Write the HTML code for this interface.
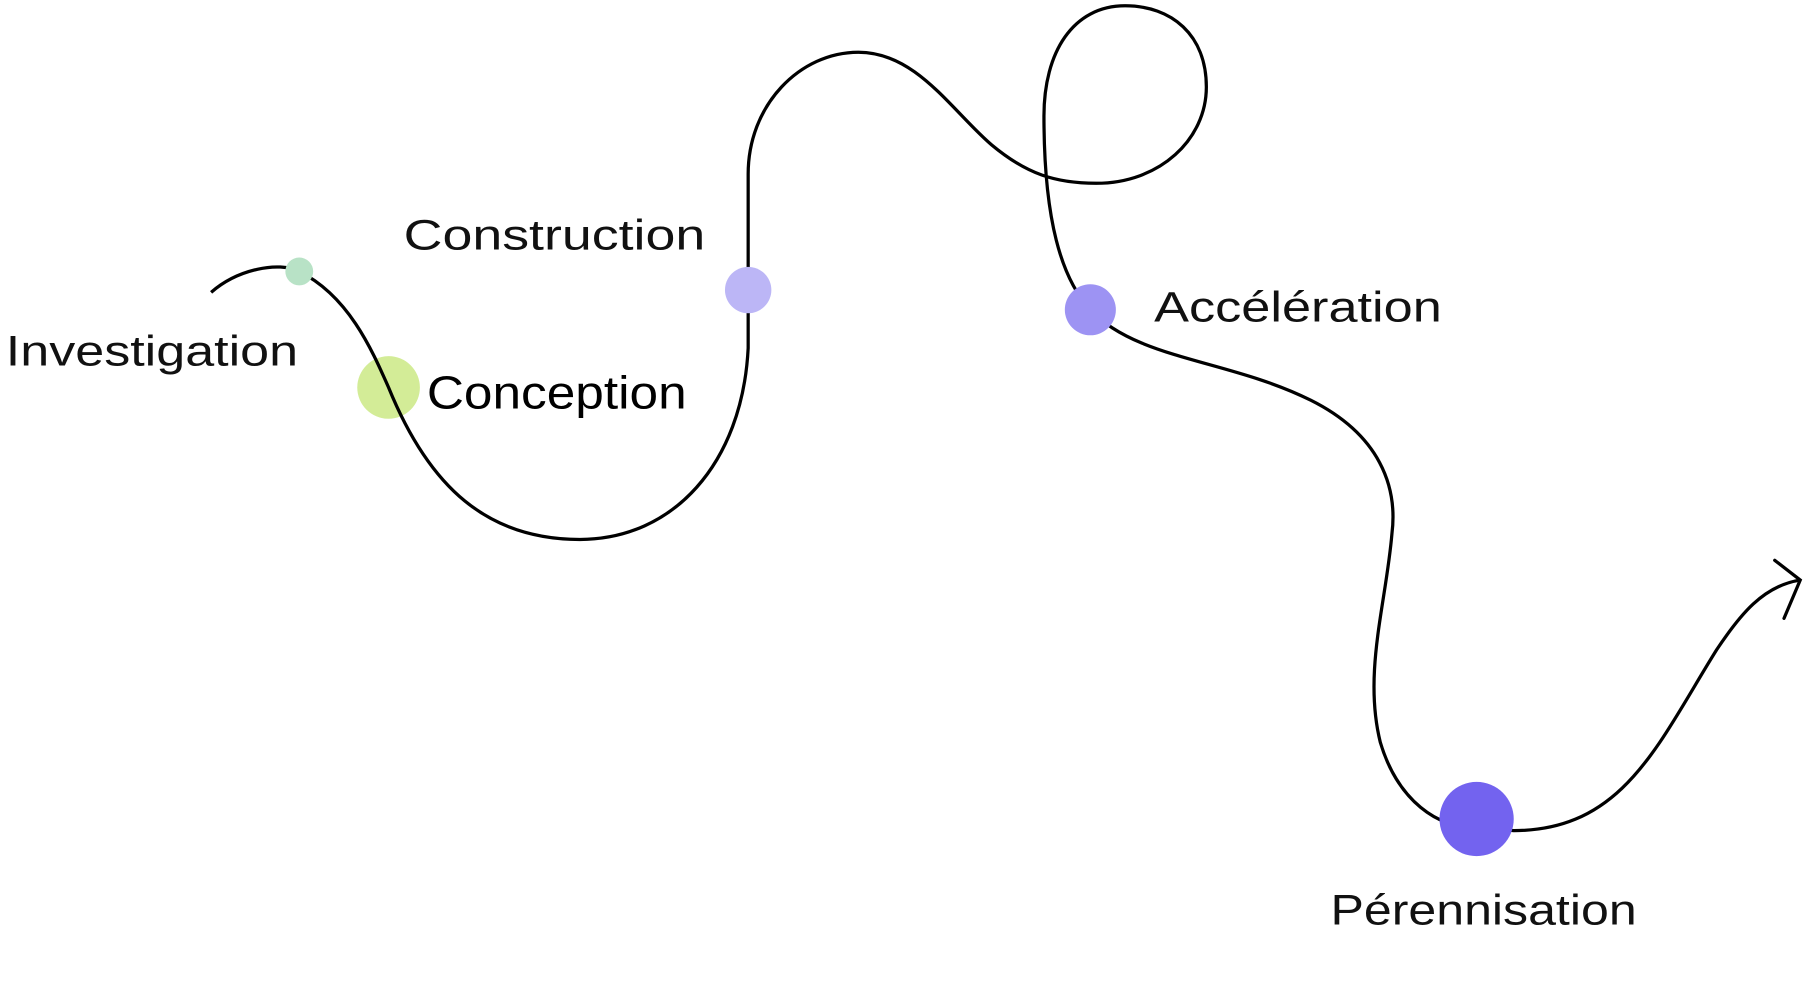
<!DOCTYPE html>
<html><head><meta charset="utf-8"><style>html,body{margin:0;padding:0;background:#fff;}svg{display:block}</style></head>
<body>
<svg width="1813" height="1000" viewBox="0 0 1563 862" preserveAspectRatio="none" xmlns="http://www.w3.org/2000/svg">
<circle cx="335" cy="334" r="27" fill="#d3ec97"/>
<path d="M182,252 C205,232 240,225 258,234 C300,255 320,300 335,334 C370,420 420,465 500,465 C580,465 640,400 645,300 L645,150 C645,90 690,45 740,45 C790,45 820,95 855,125 C885,150 910,158 945,158 C1000,158 1040,120 1040,75 C1040,30 1010,5 970,5 C925,5 900,45 900,100 C900,190 915,240 940,267 C980,310 1060,310 1130,345 C1190,375 1205,420 1200,460 C1195,520 1175,580 1190,640 C1205,690 1240,715 1273,713 L1305,716 C1400,716 1430,640 1480,560 C1500,530 1520,505 1552,500" fill="none" stroke="#000" stroke-width="2.8"/>
<path d="M1530,483 L1552,500 L1538,533" fill="none" stroke="#000" stroke-width="2.8" stroke-linecap="round"/>
<circle cx="258" cy="234" r="12" fill="#b8e2c6"/>
<circle cx="645" cy="250" r="20" fill="#bcb6f6"/>
<circle cx="940" cy="267" r="22" fill="#9d93f3"/>
<circle cx="1273" cy="706" r="32" fill="#7363ef"/>
<g font-family="Liberation Sans, sans-serif" font-size="37" fill="#111">
<text x="5" y="315" textLength="252" lengthAdjust="spacingAndGlyphs">Investigation</text>
<text x="348" y="215" textLength="260" lengthAdjust="spacingAndGlyphs">Construction</text>
<text x="368" y="352" textLength="224" lengthAdjust="spacingAndGlyphs" font-size="40" fill="#000">Conception</text>
<text x="995" y="277" textLength="248" lengthAdjust="spacingAndGlyphs">Accélération</text>
<text x="1147" y="797" textLength="264" lengthAdjust="spacingAndGlyphs">Pérennisation</text>
</g>
</svg>
</body></html>
